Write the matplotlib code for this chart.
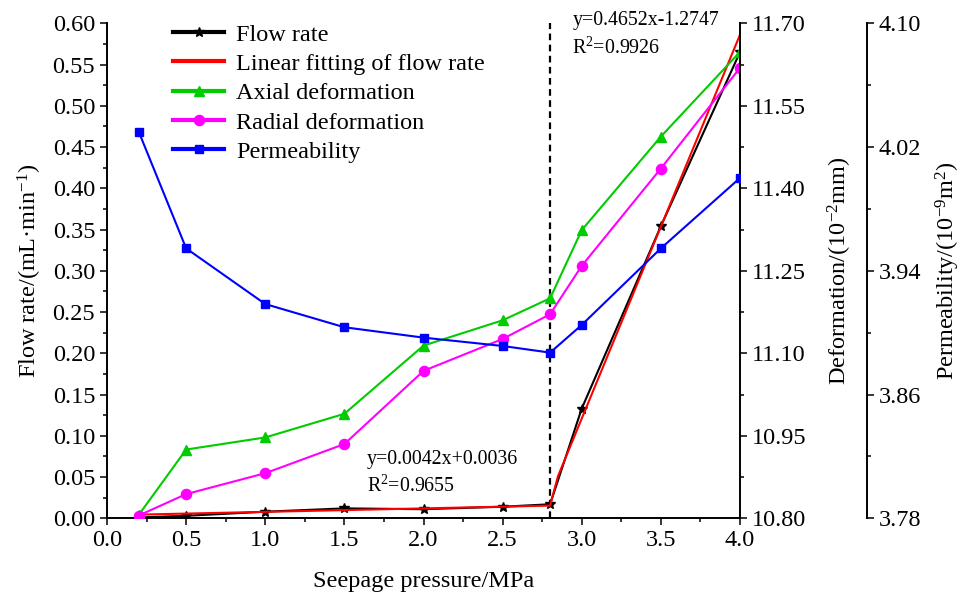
import matplotlib
matplotlib.use("Agg")
import matplotlib.pyplot as plt
import numpy as np
from matplotlib.lines import Line2D
from matplotlib.ticker import FixedLocator, MultipleLocator, FormatStrFormatter

plt.rcParams["font.family"] = ["Liberation Serif", "DejaVu Serif"]
plt.rcParams["mathtext.default"] = "regular"
plt.rcParams["font.size"] = 17.5

# seepage pressure steps (MPa)
pressure = [0.2, 0.5, 1.0, 1.5, 2.0, 2.5, 2.8, 3.0, 3.5, 4.0]
flow_rate = [0.001, 0.003, 0.008, 0.012, 0.011, 0.014, 0.017, 0.133, 0.354, 0.565]
axial_def = [10.806, 10.925, 10.947, 10.990, 11.114, 11.160, 11.200, 11.324, 11.494, 11.648]
radial_def = [10.805, 10.844, 10.882, 10.935, 11.068, 11.126, 11.171, 11.259, 11.436, 11.619]
permeability = [4.030, 3.9545, 3.9185, 3.9035, 3.8968, 3.8914, 3.8871, 3.905, 3.9545, 4.000]

# piecewise linear fits of flow rate, split at the 2.8 MPa threshold
threshold = 2.8
fit_low = (0.0042, 0.0036, 0.9655)
fit_high = (0.4652, -1.2747, 0.9926)
fit_x_low = [0.2, 2.8]
fit_x_high = [2.85, 4.0]

def_ticks = [10.80, 10.95, 11.10, 11.25, 11.40, 11.55, 11.70]
perm_ticks = [3.78, 3.86, 3.94, 4.02, 4.10]

LW = 1.5
SPINE_W = 1.4
NOTE_FS = 14.3

fig, ax = plt.subplots(figsize=(9.6, 5.98), dpi=100)
fig.subplots_adjust(left=0.1115, right=0.7708, bottom=0.1333, top=0.961)
ax2 = ax.twinx()
ax3 = ax.twinx()
ax3.spines["right"].set_position(("axes", 1.2))

for a in (ax, ax2, ax3):
    a.spines["top"].set_visible(False)
    for s in a.spines.values():
        s.set_linewidth(SPINE_W)
ax2.spines["left"].set_visible(False)
ax3.spines["left"].set_visible(False)
ax2.spines["bottom"].set_visible(False)
ax3.spines["bottom"].set_visible(False)
ax.spines["right"].set_visible(False)

# flow rate + fit on the left axis
fx_low = np.array(fit_x_low)
fx_high = np.array(fit_x_high)
fit_x = np.concatenate([fx_low, fx_high])
fit_y = np.concatenate([fit_low[0] * fx_low + fit_low[1],
                        fit_high[0] * fx_high + fit_high[1]])
ax.plot(pressure, flow_rate, color="black", lw=LW, marker="*", ms=7,
        mfc="black", mec="black", zorder=3)
ax.plot(fit_x, fit_y, color="red", lw=LW, zorder=4)
ax.plot([threshold, threshold], [0, 0.6], color="black", lw=1.6,
        ls=(0, (3, 2)), zorder=2)

ax.set_xlim(0, 4.0)
ax.set_ylim(0, 0.60)
ax.xaxis.set_major_locator(MultipleLocator(0.5))
ax.xaxis.set_minor_locator(MultipleLocator(0.25))
ax.yaxis.set_major_locator(MultipleLocator(0.05))
ax.yaxis.set_minor_locator(MultipleLocator(0.025))
ax.xaxis.set_major_formatter(FormatStrFormatter("%.1f"))
ax.yaxis.set_major_formatter(FormatStrFormatter("%.2f"))
ax.set_xlabel("Seepage pressure/MPa", labelpad=14)
ax.set_ylabel("Flow rate/(mL·min$^{-1}$)", labelpad=6)

ax.text(1.64, 0.0715, "y=%.4fx+%.4f" % fit_low[:2], va="center", ha="left",
        fontsize=NOTE_FS)
ax.text(1.64, 0.0395, "R$^2$=%.4f" % fit_low[2], va="center", ha="left",
        fontsize=NOTE_FS)
ax.text(2.94, 0.603, "y=%.4fx%.4f" % fit_high[:2], va="center", ha="left",
        fontsize=NOTE_FS, clip_on=False)
ax.text(2.94, 0.570, "R$^2$=%.4f" % fit_high[2], va="center", ha="left",
        fontsize=NOTE_FS)

# deformation on the first right axis
ax2.plot(pressure, axial_def, color="#00cc00", lw=LW, marker="^", ms=7.5)
ax2.plot(pressure, radial_def, color="#ff00ff", lw=LW, marker="o", ms=7.3)
ax2.set_ylim(def_ticks[0], def_ticks[-1])
ax2.yaxis.set_major_locator(FixedLocator(def_ticks))
ax2.yaxis.set_minor_locator(FixedLocator(np.arange(10.875, 11.70, 0.15)))
ax2.yaxis.set_major_formatter(FormatStrFormatter("%.2f"))
ax2.set_ylabel("Deformation/(10$^{-2}$mm)", labelpad=14)

# permeability on the offset right axis
ax3.plot(pressure, permeability, color="#0000ff", lw=LW, marker="s", ms=6.3)
ax3.set_ylim(perm_ticks[0], perm_ticks[-1])
ax3.yaxis.set_major_locator(FixedLocator(perm_ticks))
ax3.yaxis.set_minor_locator(FixedLocator(np.arange(3.82, 4.10, 0.08)))
ax3.yaxis.set_major_formatter(FormatStrFormatter("%.2f"))
ax3.set_ylabel("Permeability/(10$^{-9}$m$^2$)", labelpad=9)

for a in (ax, ax2, ax3):
    a.tick_params(which="major", direction="out", length=5, width=1.1)
    a.tick_params(which="minor", direction="out", length=3, width=1.1)
ax.tick_params(axis="both", which="both", right=False, top=False)

handles = [
    Line2D([], [], color="black", lw=3, marker="*", ms=7),
    Line2D([], [], color="red", lw=3),
    Line2D([], [], color="#00cc00", lw=3, marker="^", ms=7.5),
    Line2D([], [], color="#ff00ff", lw=3, marker="o", ms=7.3),
    Line2D([], [], color="#0000ff", lw=3, marker="s", ms=6.3),
]
labels = ["Flow rate", "Linear fitting of flow rate", "Axial deformation",
          "Radial deformation", "Permeability"]
ax3.legend(handles, labels, loc="upper left", bbox_to_anchor=(0.089, 1.019),
           frameon=False, handlelength=2.1, handletextpad=0.5,
           labelspacing=0.3, borderaxespad=0)

fig.savefig("out.png", dpi=100)
